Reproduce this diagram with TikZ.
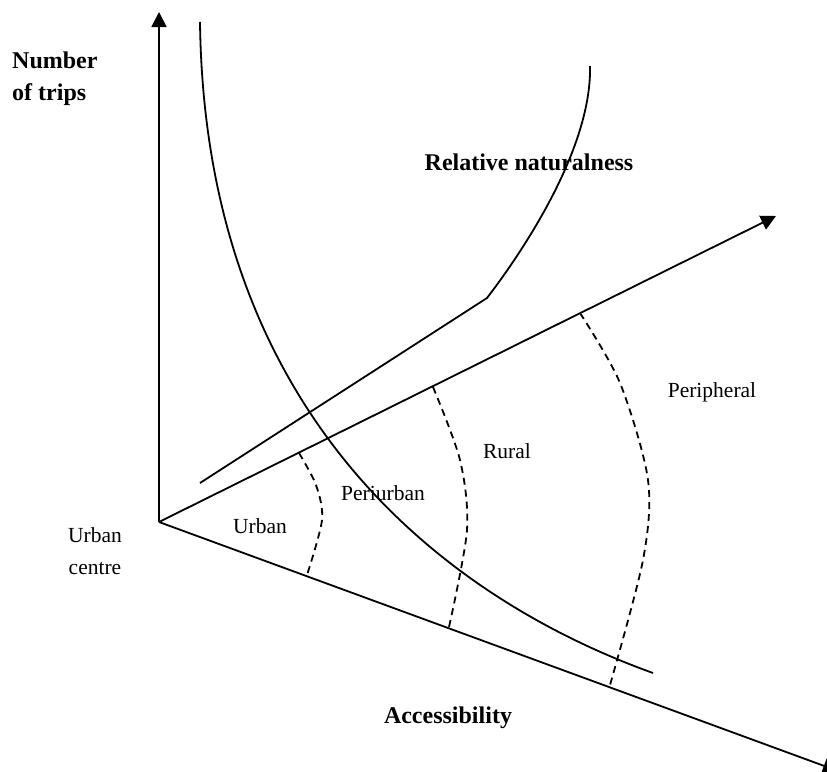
\documentclass[tikz,border=0pt]{standalone}
\usepackage{fontspec}
\setmainfont{Liberation Serif}
\usetikzlibrary{arrows.meta}

\begin{document}
\begin{tikzpicture}[
  x=1pt, y=-1pt,
  axis/.style={-{Triangle[length=15pt,width=15pt]}, line width=1.8pt},
  crv/.style={line width=1.8pt},
  zone/.style={line width=1.8pt, dash pattern=on 7pt off 5pt},
  lbl/.style={inner sep=0pt, font=\fontsize{21.5}{32}\selectfont},
  ttl/.style={inner sep=0pt, font=\fontsize{24}{32}\selectfont\bfseries}
]
  \useasboundingbox (0,0) rectangle (827,771);
  % axes
  \coordinate (centre) at (159,522);
  \coordinate (trips) at (159,12);
  \coordinate (nat) at (776,216);
  \coordinate (acc) at (838,771);
  \draw[axis] (centre) -- (trips);
  \draw[axis] (centre) -- (nat);
  \draw[axis] (centre) -- (acc);
  % naturalness line and its bend
  \coordinate (natstart) at (200,483);
  \coordinate (bend) at (487,298);
  \coordinate (natend) at (590,66);
  \draw[crv] (natstart) -- (bend) .. controls (520,255) and (592,150) .. (natend);
  % trips curve
  \coordinate (tripstop) at (200,22);
  \coordinate (tripsend) at (653,673);
  \draw[crv] (tripstop) .. controls (205,420) and (450,600) .. (tripsend);
  % zones
  \draw[zone] plot[smooth] coordinates {(299,453) (316,485) (322,520) (307,575)};
  \draw[zone] plot[smooth] coordinates {(433,387) (460,460) (467,530) (449,627)};
  \draw[zone] plot[smooth] coordinates {(580,313) (620,383) (648,480) (643,560) (610,685)};
  % labels
  \node[ttl, anchor=north west, align=left] (ytitle) at (12,52) {Number\\of trips};
  \node[ttl, anchor=base] (ntitle) at (529,170) {Relative naturalness};
  \node[ttl, anchor=base] (atitle) at (448,723) {Accessibility};
  \node[lbl, anchor=north, align=center] (ctr) at (95,527) {Urban\\centre};
  \node[lbl, anchor=base] (urban) at (260,533) {Urban};
  \node[lbl, anchor=base] (peri) at (383,500) {Periurban};
  \node[lbl, anchor=base] (rural) at (507,458) {Rural};
  \node[lbl, anchor=base] (periph) at (712,397) {Peripheral};
\end{tikzpicture}
\end{document}
